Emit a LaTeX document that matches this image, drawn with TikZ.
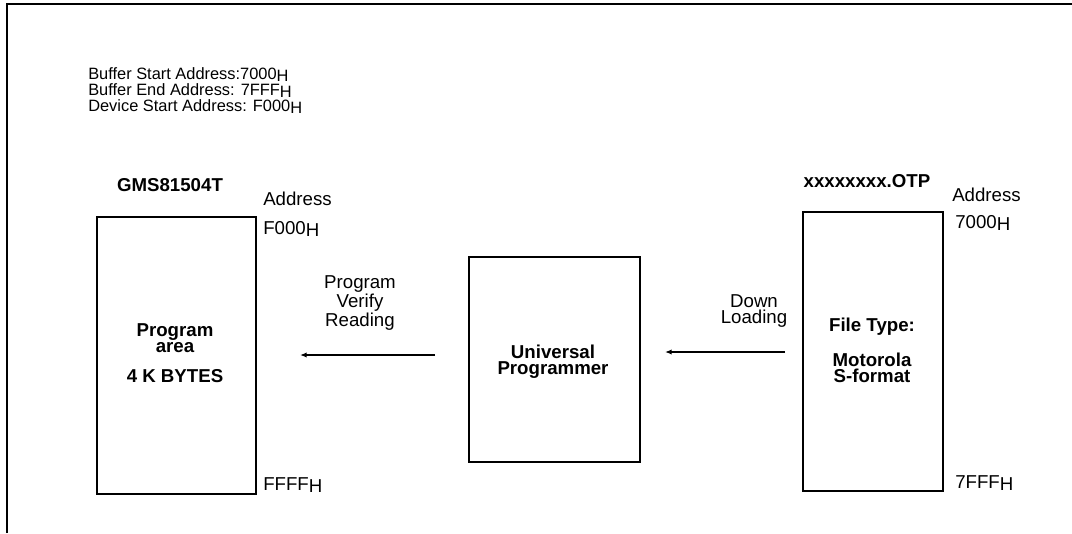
\documentclass[tikz,border=0pt]{standalone}
\usepackage{fontspec}
\setmainfont{Liberation Sans}
\usetikzlibrary{arrows.meta}
\newcommand\Hsub{\raisebox{-0.3ex}[\height][0pt]{H}}
\begin{document}
\begin{tikzpicture}[x=0.75pt,y=-0.75pt,
  frame/.style={line width=1.6pt},
  blk/.style={draw,line width=1.6pt},
  lbl/.style={inner sep=0pt,font=\fontsize{14}{12.2}\selectfont,align=center},
  llbl/.style={lbl,anchor=base west,align=left},
  hlbl/.style={llbl,font=\fontsize{12.3}{12}\selectfont},
  bl/.style={lbl,font=\fontsize{14}{12.2}\selectfont\bfseries},
  arr/.style={line width=1.5pt,-{Latex[length=5pt,width=4pt]}}]
\useasboundingbox (0,0) rectangle (1072,533);
\draw[frame] (7,533) -- (7,4) -- (1072,4);
% header text
\node[hlbl] (h1) at (88,79) {Buffer Start Address:7000\Hsub};
\node[hlbl] (h2) at (88,95) {Buffer End Address: 7FFF\Hsub};
\node[hlbl] (h3) at (88,111) {Device Start Address: F000\Hsub};
% boxes
\draw[blk] (97,217) rectangle (256,494);
\draw[blk] (469,257) rectangle (640,462);
\draw[blk] (803,212) rectangle (943,491);
% left box
\node[bl] (gms) at (170,185) {GMS81504T};
\node[llbl] (ad1) at (263,205) {Address};
\node[llbl] (f0) at (263,234) {F000\Hsub};
\node[llbl] (ff) at (263,490) {FFFF\Hsub};
\node[bl] (pa) at (175,338) {Program\\area};
\node[bl] (kb) at (175,376) {4 K BYTES};
% middle
\node[lbl] (pvr) at (360,303) {Program\\Verify\\Reading};
\node[bl] (up) at (553,362) {Universal\\Programmer};
\node[lbl] (dl) at (754,311) {Down\\Loading};
% right box
\node[bl] (otp) at (867,181) {xxxxxxxx.OTP};
\node[llbl] (ad2) at (952,201) {Address};
\node[llbl] (s0) at (955,228) {7000\Hsub};
\node[llbl] (sf) at (955,488) {7FFF\Hsub};
\node[bl] (ft) at (872,327) {File Type:};
\node[bl] (mo) at (872,368) {Motorola\\S-format};
% arrows
\coordinate (a1s) at (435,355);
\coordinate (a1e) at (300,355);
\coordinate (a2s) at (785,352);
\coordinate (a2e) at (665,352);
\draw[arr] (a1s) -- (a1e);
\draw[arr] (a2s) -- (a2e);
\end{tikzpicture}
\end{document}
